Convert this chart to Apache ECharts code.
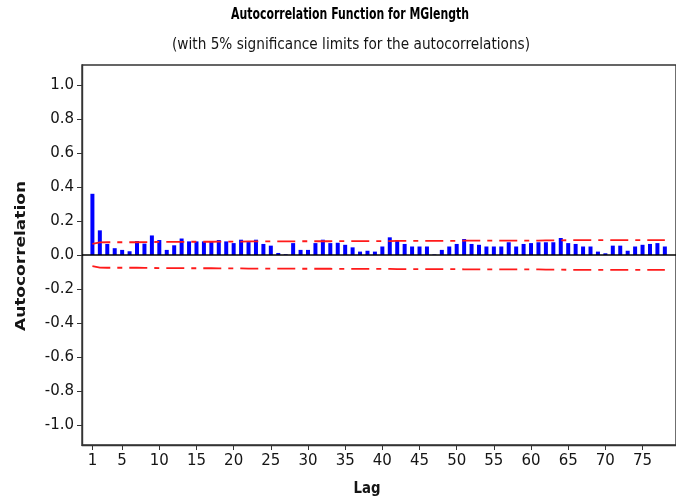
<!DOCTYPE html>
<html>
<head>
<meta charset="utf-8">
<script src="https://cdn.jsdelivr.net/npm/echarts@6/dist/echarts.min.js"></script>
<style>
  html, body { margin: 0; padding: 0; background: #fff; }
  #chart { width: 676px; height: 502px; }
</style>
</head>
<body>
<div id="chart"></div>
<script>
// Sample autocorrelations of MGlength by lag
const lags = [1, 2, 3, 4, 5, 6, 7, 8, 9, 10, 11, 12, 13, 14, 15, 16, 17, 18, 19, 20,
  21, 22, 23, 24, 25, 26, 27, 28, 29, 30, 31, 32, 33, 34, 35, 36, 37, 38, 39, 40,
  41, 42, 43, 44, 45, 46, 47, 48, 49, 50, 51, 52, 53, 54, 55, 56, 57, 58, 59, 60,
  61, 62, 63, 64, 65, 66, 67, 68, 69, 70, 71, 72, 73, 74, 75, 76, 77, 78];

const acf = [0.360, 0.145, 0.065, 0.040, 0.030, 0.022, 0.082, 0.067, 0.115, 0.088,
  0.030, 0.057, 0.097, 0.080, 0.080, 0.080, 0.080, 0.088, 0.080, 0.070,
  0.090, 0.076, 0.090, 0.065, 0.055, 0.012, 0.004, 0.070, 0.030, 0.030,
  0.070, 0.090, 0.070, 0.072, 0.060, 0.045, 0.020, 0.025, 0.020, 0.050,
  0.104, 0.088, 0.065, 0.050, 0.050, 0.050, 0.003, 0.030, 0.050, 0.065,
  0.094, 0.065, 0.060, 0.050, 0.050, 0.050, 0.075, 0.050, 0.065, 0.070,
  0.075, 0.075, 0.075, 0.100, 0.070, 0.065, 0.050, 0.050, 0.020, 0.010,
  0.055, 0.055, 0.025, 0.050, 0.060, 0.065, 0.070, 0.050];

// Upper 5% significance limit at each lag (lower limit is its negative)
const limit = [0.066, 0.074, 0.075, 0.075, 0.075, 0.075, 0.075, 0.076, 0.076, 0.077,
  0.077, 0.077, 0.077, 0.078, 0.078, 0.078, 0.078, 0.079, 0.079, 0.079,
  0.079, 0.080, 0.080, 0.080, 0.080, 0.080, 0.080, 0.080, 0.081, 0.081,
  0.081, 0.081, 0.081, 0.082, 0.082, 0.082, 0.082, 0.082, 0.082, 0.082,
  0.082, 0.083, 0.083, 0.083, 0.083, 0.083, 0.083, 0.083, 0.083, 0.083,
  0.084, 0.084, 0.084, 0.084, 0.084, 0.084, 0.085, 0.085, 0.085, 0.085,
  0.085, 0.086, 0.086, 0.086, 0.087, 0.087, 0.087, 0.087, 0.087, 0.087,
  0.087, 0.088, 0.088, 0.088, 0.088, 0.088, 0.088, 0.088];

const xTickLabels = [1, 5, 10, 15, 20, 25, 30, 35, 40, 45, 50, 55, 60, 65, 70, 75];
const yTickLabels = [-1.0, -0.8, -0.6, -0.4, -0.2, 0.0, 0.2, 0.4, 0.6, 0.8, 1.0];

const titleText = 'Autocorrelation Function for MGlength';
const subtitleText = '(with 5% significance limits for the autocorrelations)';

// Horizontal squeeze so a text run spans the wanted width
const measureCtx = document.createElement('canvas').getContext('2d');
function squeeze(text, font, width) {
  measureCtx.font = font;
  return width / measureCtx.measureText(text).width;
}

const titleFont = 'bold 16px "DejaVu Sans"';
const subFont = '15px "DejaVu Sans"';
const nameFont = 'bold 15px "DejaVu Sans"';

const barData = lags.map((l, i) => [l, acf[i]]);
const upperData = lags.map((l, i) => [l, limit[i]]);
const lowerData = lags.map((l, i) => [l, -limit[i]]);

const textColor = '#151515';
const axisColor = '#333';
const dashDot = [18, 7, 5, 7];

const chart = echarts.init(document.getElementById('chart'), null, { renderer: 'canvas' });
chart.setOption({
  animation: false,
  backgroundColor: '#fff',
  grid: {
    left: 82, top: 65, bottom: 57, width: 610,
    show: true, borderColor: axisColor, borderWidth: 1.4, backgroundColor: '#fff'
  },
  xAxis: {
    type: 'value',
    min: -0.4, max: 79.5,
    axisLine: { show: true, onZero: false, lineStyle: { color: axisColor, width: 1.4 } },
    axisTick: { show: true, length: 5, customValues: xTickLabels, lineStyle: { color: axisColor } },
    axisLabel: {
      customValues: xTickLabels, margin: 9,
      color: textColor, fontFamily: 'DejaVu Sans', fontSize: 15
    },
    splitLine: { show: false }
  },
  yAxis: {
    type: 'value',
    min: -1.1176, max: 1.1176,
    axisLine: { show: true, onZero: false, lineStyle: { color: axisColor, width: 1.4 } },
    axisTick: { show: true, length: 5, customValues: yTickLabels, lineStyle: { color: axisColor } },
    axisLabel: {
      customValues: yTickLabels, margin: 8,
      formatter: v => v.toFixed(1),
      color: textColor, fontFamily: 'DejaVu Sans', fontSize: 15
    },
    splitLine: { show: false }
  },
  graphic: [
    {
      type: 'text', x: 350, y: 15,
      scaleX: squeeze(titleText, titleFont, 238),
      style: { text: titleText, font: titleFont, fill: '#000',
        align: 'center', verticalAlign: 'middle', textAlign: 'center', textVerticalAlign: 'middle' }
    },
    {
      type: 'text', x: 351, y: 45,
      scaleX: squeeze(subtitleText, subFont, 358),
      style: { text: subtitleText, font: subFont, fill: textColor,
        align: 'center', verticalAlign: 'middle', textAlign: 'center', textVerticalAlign: 'middle' }
    },
    {
      type: 'text', x: 367, y: 489,
      scaleX: squeeze('Lag', nameFont, 27),
      style: { text: 'Lag', font: nameFont, fill: textColor,
        align: 'center', verticalAlign: 'middle', textAlign: 'center', textVerticalAlign: 'middle' }
    },
    {
      type: 'text', x: 21, y: 256, rotation: Math.PI / 2,
      scaleX: squeeze('Autocorrelation', nameFont, 150), scaleY: 0.9,
      style: { text: 'Autocorrelation', font: nameFont, fill: textColor,
        align: 'center', verticalAlign: 'middle', textAlign: 'center', textVerticalAlign: 'middle' }
    }
  ],
  series: [
    {
      name: 'ACF',
      type: 'bar',
      data: barData,
      barWidth: 4,
      itemStyle: { color: '#0000ff' },
      markLine: {
        silent: true, symbol: 'none', label: { show: false },
        lineStyle: { color: '#000', width: 1.6, type: 'solid' },
        data: [{ yAxis: 0 }]
      },
      z: 3
    },
    {
      name: 'Upper limit',
      type: 'line',
      data: upperData,
      symbol: 'none',
      lineStyle: { color: '#ff1a1a', width: 1.8, type: dashDot },
      z: 4
    },
    {
      name: 'Lower limit',
      type: 'line',
      data: lowerData,
      symbol: 'none',
      lineStyle: { color: '#ff1a1a', width: 1.8, type: dashDot },
      z: 4
    }
  ]
});
</script>
</body>
</html>
